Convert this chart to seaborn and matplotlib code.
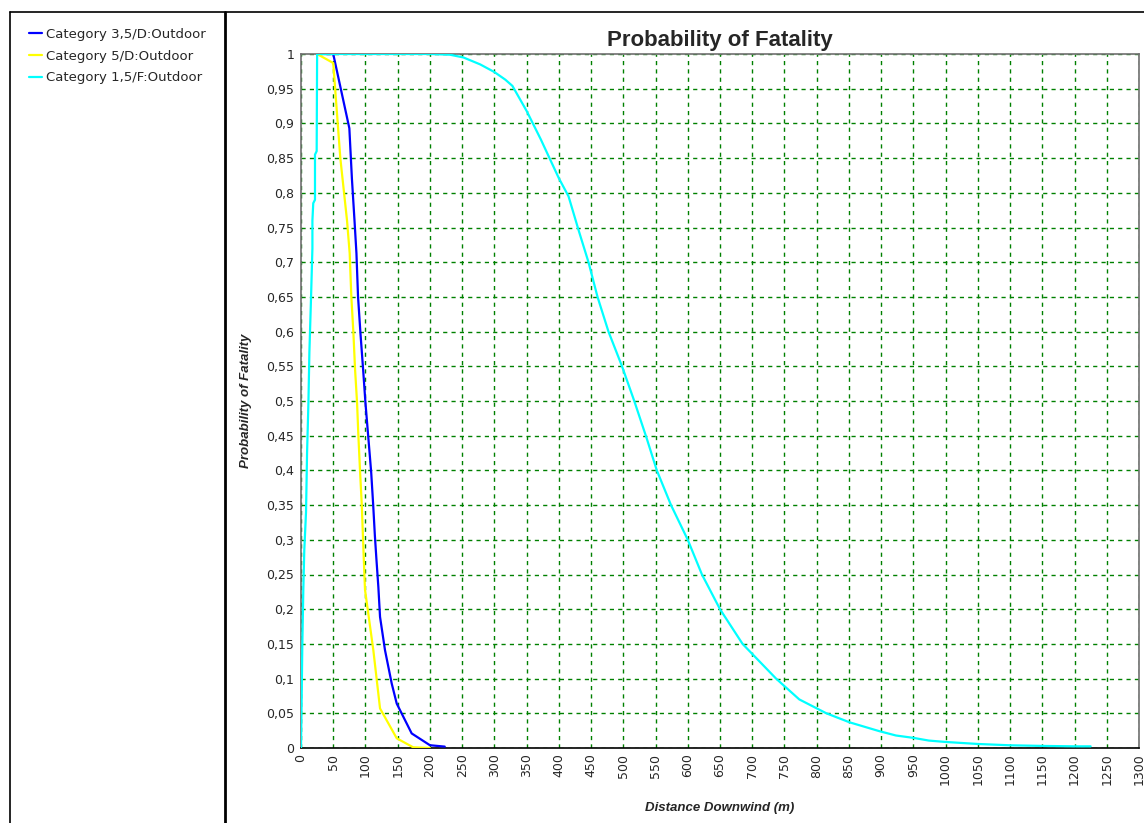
import numpy as np
import pandas as pd
import matplotlib
matplotlib.use("Agg")
import matplotlib.pyplot as plt
import seaborn as sns
from matplotlib.lines import Line2D
from matplotlib.ticker import FuncFormatter, MultipleLocator

sns.set_style("white")
plt.rcParams['font.family'] = ['DejaVu Sans']

# --- data ---
blue_x = [25, 50, 61, 75, 79, 83, 86, 88.5, 92.2, 96.4, 100, 104.2, 108.9, 112, 114.6, 117,
          120, 122.6, 130.3, 140.7, 148.5, 171.7, 200, 223]
blue_y = [1.0, 1.0, 0.953, 0.893, 0.82, 0.76, 0.713, 0.65, 0.598, 0.545, 0.497, 0.45, 0.397, 0.35,
          0.306, 0.272, 0.232, 0.189, 0.141, 0.093, 0.064, 0.021, 0.004, 0.002]

yellow_x = [25, 50, 61, 71.4, 75.5, 78.1, 81.3, 83.9, 87, 89, 91.7, 94.3, 97.4, 99.3, 112.2,
            122.6, 148.5, 174, 200]
yellow_y = [1.0, 0.987, 0.85, 0.76, 0.713, 0.65, 0.598, 0.545, 0.497, 0.45, 0.397, 0.35, 0.272,
            0.228, 0.141, 0.057, 0.014, 0.001, 0.0]

cyan_x = [0, 1, 2, 3.6, 5.1, 7.8, 9.4, 11.5, 13, 15.6, 17.7, 17.7, 19, 21.7, 21.7, 24.3, 25,
          200, 231, 252, 278, 300, 317, 328, 350, 372, 400, 415, 431, 446, 460, 477, 498, 517,
          536, 552, 574, 600, 622, 650, 685, 737, 773, 815, 851, 897, 923, 950, 974, 1000, 1050,
          1100, 1150, 1200, 1225]
cyan_y = [0.0, 0.07, 0.146, 0.228, 0.285, 0.34, 0.425, 0.497, 0.57, 0.65, 0.72, 0.76, 0.785,
          0.79, 0.855, 0.86, 1.0, 1.0, 0.999, 0.995, 0.985, 0.974, 0.963, 0.954, 0.918, 0.877,
          0.821, 0.795, 0.745, 0.7, 0.65, 0.6, 0.55, 0.5, 0.447, 0.4, 0.35, 0.3, 0.25, 0.2, 0.15,
          0.1, 0.07, 0.05, 0.037, 0.0243, 0.018, 0.0146, 0.0107, 0.0087, 0.0058, 0.0039, 0.003,
          0.0024, 0.0024]

series_names = ["Category 3,5/D:Outdoor", "Category 5/D:Outdoor", "Category 1,5/F:Outdoor"]
series_colors = ["#0000FF", "#FFFF00", "#00FFFF"]

df = pd.concat([
    pd.DataFrame({"x": blue_x, "y": blue_y, "s": series_names[0]}),
    pd.DataFrame({"x": yellow_x, "y": yellow_y, "s": series_names[1]}),
    pd.DataFrame({"x": cyan_x, "y": cyan_y, "s": series_names[2]}),
], ignore_index=True)

W, H = 1144, 823
fig = plt.figure(figsize=(W / 100, H / 100), dpi=100)
ax = fig.add_axes([301 / W, 1 - 748 / H, (1139 - 301) / W, (748 - 54) / H])

sns.lineplot(data=df, x="x", y="y", hue="s", palette=dict(zip(series_names, series_colors)),
             sort=False, estimator=None, linewidth=1.6, legend=False, ax=ax, zorder=3)

ax.set_xlim(0, 1300)
ax.set_ylim(0, 1)
ax.xaxis.set_major_locator(MultipleLocator(50))
ax.yaxis.set_major_locator(MultipleLocator(0.05))
ax.yaxis.set_major_formatter(FuncFormatter(lambda v, p: f"{round(v, 2):g}".replace('.', ',')))
ax.xaxis.set_major_formatter(FuncFormatter(lambda v, p: f"{v:.0f}"))
ax.tick_params(axis='both', labelsize=9, color='green', length=4, width=1, pad=1)
ax.tick_params(axis='x', labelrotation=90, pad=0)
ax.grid(True, color='green', linestyle=(0, (3, 3)), linewidth=1.0, zorder=1)
ax.set_axisbelow(True)

for side in ['top', 'left', 'right']:
    ax.spines[side].set_color('#707070')
    ax.spines[side].set_linewidth(1.2)
ax.spines['bottom'].set_color('black')
ax.spines['bottom'].set_linewidth(1.2)

ax.set_title("Probability of Fatality", fontsize=16, fontweight='bold',
             family='Liberation Sans', pad=6)
ax.set_xlabel("Distance Downwind (m)", fontsize=9.5, fontweight='bold', style='italic',
              family='Liberation Sans')
ax.set_ylabel("Probability of Fatality", fontsize=9.5, fontweight='bold', style='italic',
              family='Liberation Sans')
ax.yaxis.set_label_coords(-0.058, 0.5)
ax.xaxis.set_label_coords(0.5, -0.078)

# legend panel on the left
handles = [Line2D([], [], color=c, linewidth=1.6) for c in series_colors]
fig.legend(handles, series_names, loc='upper left', bbox_to_anchor=(29 / W, 1 - 28 / H),
           frameon=False, fontsize=9.5, handlelength=1.0, handletextpad=0.3,
           labelspacing=0.65, borderpad=0, borderaxespad=0)

# frame lines of the surrounding panel
fig.add_artist(Line2D([10 / W, 1], [1 - 12 / H, 1 - 12 / H], color='black', linewidth=1.2))
fig.add_artist(Line2D([10 / W, 10 / W], [0, 1 - 12 / H], color='black', linewidth=1.2))
fig.add_artist(Line2D([225 / W, 225 / W], [0, 1 - 12 / H], color='black', linewidth=2))

fig.savefig("out.png", dpi=100)
